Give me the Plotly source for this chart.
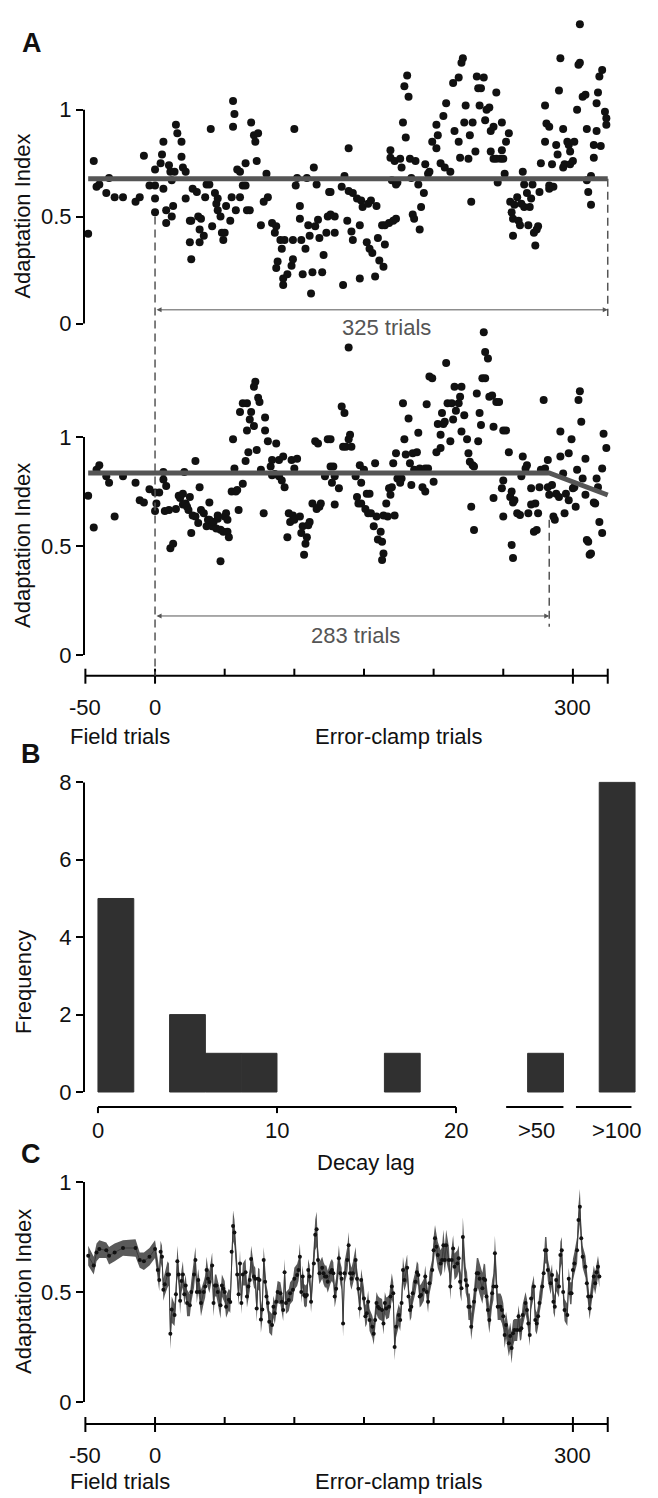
import plotly.graph_objects as go

W, H = 658, 1498
OFF = 8  # page offset of the figure (default body margin)

# ------------------------------------------------------------------ data
field_trials = [-48, -44, -42, -40, -35, -33, -29, -23, -14, -11, -8, -4]

# Panel A (upper subject): adaptation index per trial
a1_field_vals = [0.42, 0.76, 0.64, 0.65, 0.61, 0.68, 0.59, 0.59, 0.57, 0.59, 0.785, 0.645]
a1_clamp = [
    (0,0.52),(0,0.585),(0,0.645),(0,0.72),(4,0.75),(5,0.79),(6,0.85),(6,0.63),(8,0.47),(8,0.53),
    (10,0.74),(11,0.71),(12,0.50),(13,0.55),(12,0.67),(14,0.71),(15,0.93),(16,0.89),(19,0.85),(19,0.78),
    (20,0.73),(22,0.71),(22,0.585),(25,0.48),(25,0.38),(26,0.30),(26,0.48),(27,0.63),(30,0.615),(31,0.50),
    (32,0.44),(32,0.38),(33,0.49),(35,0.41),(36,0.59),(37,0.65),(39,0.65),(40,0.91),(41,0.455),(43,0.61),
    (44,0.56),(45,0.53),(45,0.585),(47,0.50),(48,0.425),(49,0.39),(50,0.425),(51,0.55),(54,0.48),(55,0.59),
    (56,1.04),(57,0.98),(56,0.92),(58,0.53),(59,0.72),(61,0.71),(61,0.59),(63,0.645),(65,0.645),(65,0.75),
    (66,0.53),(68,0.53),(69,0.94),(71,0.88),(72,0.85),(73,0.76),(74,0.89),(76,0.46),(78,0.57),(80,0.70),
    (81,0.59),(84,0.47),(86,0.425),(87,0.455),(87,0.26),(88,0.29),(90,0.39),(91,0.35),(92,0.21),(93,0.39),
    (92,0.18),(95,0.23),(98,0.27),(99,0.30),(100,0.91),(99,0.39),(101,0.645),(102,0.68),(104,0.55),(104,0.49),
    (105,0.39),(106,0.23),(108,0.35),(109,0.68),(110,0.46),(111,0.41),(112,0.14),(113,0.24),(114,0.73),(115,0.455),
    (116,0.65),(117,0.485),(118,0.40),(120,0.24),(121,0.32),(123,0.425),(124,0.50),(125,0.615),
    (126,0.615),(126,0.51),(129,0.50),(129,0.425),(134,0.64),(135,0.18),(136,0.69),(138,0.48),(139,0.82),(139,0.62),
    (141,0.43),(142,0.61),(142,0.39),(145,0.585),(147,0.21),(147,0.46),(148,0.575),(149,0.545),(152,0.38),(153,0.56),
    (154,0.35),(155,0.575),(156,0.33),(158,0.22),(159,0.55),(160,0.40),(161,0.295),(163,0.46),(164,0.265),(165,0.37),
    (165,0.46),(168,0.47),(171,0.48),(173,0.49),(169,0.81),(169,0.775),(170,0.67),(172,0.76),(173,0.65),(174,0.66),
    (176,0.77),(177,0.73),(178,0.94),(179,1.11),(180,0.87),(181,1.16),(182,1.06),(183,0.77),(184,0.68),(185,0.51),
    (187,0.76),(186,0.49),(189,0.65),(190,0.44),(191,0.545),(193,0.61),(194,0.745),(196,0.70),(197,0.71),(199,0.85),
    (202,0.93),(202,0.82),(203,0.88),(205,0.75),(207,0.97),(208,0.73),(209,1.03),(212,0.71),(214,1.125),(215,0.90),
    (218,1.15),(218,0.85),(219,0.775),(220,1.22),(221,1.24),(222,0.94),(223,1.02),(225,0.77),(226,0.88),(227,0.57),
    (228,0.94),(230,0.805),(231,1.155),(232,1.10),(233,1.02),(234,1.10),(236,1.15),(237,0.95),(238,1.00),(240,1.01),
    (241,0.90),(243,0.92),(241,0.805),(243,0.77),(245,1.08),(246,0.66),(245,0.77),(248,0.77),(249,0.81),(250,0.77),
    (249,0.94),(251,0.70),(252,0.85),(254,0.89),(255,0.57),(256,0.52),(257,0.49),(257,0.41),(258,0.555),(260,0.59),
    (261,0.48),(262,0.46),(263,0.56),(264,0.71),(265,0.65),(265,0.545),(267,0.61),(268,0.46),(269,0.545),(270,0.585),
    (271,0.65),(272,0.425),(273,0.365),(274,0.44),(275,0.455),(276,0.615),(277,0.75),(280,0.85),(280,1.02),(281,0.935),
    (283,0.63),(283,0.92),(283,0.645),(285,0.745),(286,0.64),(288,0.835),(289,0.79),(290,1.09),(291,1.24),(293,0.91),
    (293,0.73),(294,0.745),(296,0.85),(297,0.835),(298,0.805),(298,0.745),(300,0.76),(301,0.85),(303,1.00),(304,1.21),
    (305,1.22),(305,1.40),(307,1.06),(309,1.07),(310,0.67),(310,0.91),(311,0.615),(313,0.555),(313,0.69),(315,0.835),
    (315,0.775),(317,1.03),(317,0.90),(318,1.08),(319,1.155),(320,0.83),(321,1.185),(323,0.99),(324,0.96),(324,0.93),
]
a1_fit_level = 0.677
clamp_end = 325

# Panel A (lower subject)
a2_field_vals = [0.73, 0.585, 0.85, 0.87, 0.82, 0.79, 0.635, 0.82, 0.79, 0.71, 0.70, 0.76]
a2_clamp = [
    (0,0.745),(0,0.66),(1,0.695),(3,0.745),(6,0.84),(6,0.805),(7,0.66),(8,0.775),(10,0.665),(11,0.49),
    (13,0.51),(15,0.67),(17,0.73),(18,0.72),(20,0.74),(20,0.69),(21,0.84),(22,0.695),(23,0.68),(24,0.665),
    (25,0.725),(26,0.56),(27,0.64),(29,0.635),(29,0.89),(31,0.605),(32,0.77),(33,0.665),(35,0.65),(37,0.59),
    (38,0.62),(39,0.70),(39,0.62),(41,0.59),(42,0.61),(44,0.58),(45,0.625),(45,0.64),(47,0.43),(47,0.575),
    (49,0.565),(50,0.635),(51,0.65),(52,0.565),(53,0.54),(52,0.62),(55,0.75),(56,0.99),(57,0.855),(58,0.75),
    (59,0.757),(60,0.665),(61,1.115),(63,0.785),(63,1.155),(65,0.89),(66,1.155),(66,1.03),(67,0.93),(68,1.08),
    (69,1.115),(71,1.23),(71,1.05),(72,1.254),(73,0.94),(74,1.18),(75,1.16),(76,0.85),(78,0.65),(79,1.09),
    (79,1.03),(81,0.98),(83,0.865),(84,0.895),(84,0.825),(86,0.83),(87,0.97),(89,0.895),(89,0.82),(91,0.80),
    (92,0.91),(93,0.77),(95,0.54),(96,0.65),(97,0.61),(98,0.895),(99,0.64),(100,0.62),(100,0.855),(102,0.90),
    (104,0.635),(105,0.56),(106,0.59),(107,0.46),(108,0.51),(109,0.54),(110,0.595),(111,0.61),(113,0.695),(115,0.98),
    (116,0.67),(117,0.97),(118,0.68),(119,0.695),(122,0.82),(124,0.99),
    (126,0.99),(126,0.865),(128,0.865),(127,0.79),(129,0.82),(129,0.69),(132,0.765),(134,1.14),(135,0.955),(136,1.11),
    (137,0.955),(139,1.41),(139,0.99),(140,1.01),(141,0.955),(144,0.82),(145,0.725),(146,0.695),(147,0.87),(148,0.79),
    (148,0.695),(150,0.85),(151,0.67),(152,0.74),(153,0.65),(154,0.74),(155,0.65),(157,0.59),(158,0.88),(159,0.635),
    (160,0.53),(162,0.565),(163,0.52),(164,0.466),(163,0.436),(164,0.64),(166,0.695),(167,0.635),(168,0.765),(169,0.735),
    (170,0.77),(171,0.88),(172,0.64),(173,0.925),(174,0.81),(176,0.79),(177,0.81),(178,1.155),(179,0.99),(180,0.92),
    (182,1.085),(183,0.88),(184,0.78),(185,0.925),(186,0.85),(188,0.93),(189,1.02),(190,0.855),(192,0.77),(194,0.75),
    (194,0.855),(195,1.15),(196,0.855),(197,1.277),(199,1.27),(200,0.795),(202,0.93),(203,1.06),(205,1.01),(205,0.95),
    (206,1.11),(207,1.06),(208,1.07),(209,1.34),(210,1.155),(212,0.98),(213,1.155),(214,1.08),(215,1.23),(216,1.12),
    (218,1.155),(219,1.185),(220,1.23),(220,1.025),(222,1.10),(224,0.99),(225,0.925),(226,0.887),(227,0.68),(228,0.87),
    (229,0.573),(229,0.865),(231,1.20),(232,0.98),(233,1.11),(234,1.055),(235,1.27),(237,1.27),(237,1.39),(236,1.48),
    (239,1.36),(240,1.185),(242,1.19),(243,1.047),(243,0.72),(245,1.16),(247,1.16),(249,0.765),(250,0.635),(250,0.80),
    (250,1.03),(252,1.03),(254,0.93),(255,0.725),(256,0.75),(256,0.505),(257,0.445),(257,0.70),(258,0.71),(260,0.65),
    (262,0.642),(263,0.82),(264,0.91),(266,0.855),(267,0.87),(268,0.65),(270,0.765),(270,0.69),(272,0.565),(273,0.695),
    (274,0.573),(275,0.65),(276,0.77),(279,1.17),(277,0.85),(280,0.855),(282,0.895),(282,0.77),(283,0.735),(285,0.78),
    (286,0.635),(287,0.62),(288,0.74),(290,0.725),(291,0.91),(291,1.025),(293,0.833),(294,0.65),(295,0.74),(297,0.71),
    (297,0.925),(299,0.99),(300,0.765),(301,0.77),(302,0.68),(303,0.85),(304,1.17),(305,1.21),(306,1.07),(307,0.81),
    (309,0.90),(309,0.735),(310,0.527),(311,0.52),(312,0.46),(313,0.466),(315,0.70),(316,0.695),(317,0.81),(318,0.77),
    (319,0.61),(321,0.56),(321,0.855),(322,1.015),(324,0.95),
]
a2_fit_level = 0.835
a2_decay_start = 283
a2_fit_end = 0.734

# Panel B: histogram of decay lag
lag_bin_left = [0, 4, 6, 8, 16]
lag_bin_width = 2
lag_counts = [5, 2, 1, 1, 1]
overflow_labels = [">50", ">100"]
overflow_counts = [1, 8]

# Panel C: group mean adaptation index with s.e.m.
c_field_vals = [0.665, 0.62, 0.68, 0.695, 0.69, 0.665, 0.68, 0.70, 0.70, 0.645, 0.64, 0.66]
c_field_err = [0.045, 0.04, 0.04, 0.04, 0.035, 0.04, 0.04, 0.035, 0.04, 0.035, 0.04, 0.04]
c_clamp = [
    (0,0.695,0.04),(2,0.60,0.05),(3,0.555,0.05),(4,0.683,0.05),(5,0.66,0.05),(6,0.51,0.05),(7,0.535,0.05),(9,0.58,0.06),
    (10,0.58,0.05),(11,0.31,0.07),(12,0.42,0.06),(14,0.395,0.05),(15,0.49,0.06),(16,0.64,0.07),(17,0.58,0.05),(18,0.46,0.06),
    (19,0.55,0.05),(20,0.58,0.06),(21,0.49,0.05),(22,0.53,0.05),(23,0.45,0.06),(25,0.44,0.05),(26,0.50,0.05),(28,0.58,0.06),
    (29,0.645,0.06),(30,0.50,0.05),(31,0.555,0.05),(32,0.50,0.05),(33,0.45,0.06),(35,0.50,0.05),(36,0.525,0.05),(37,0.60,0.06),
    (38,0.56,0.05),(39,0.545,0.05),(41,0.62,0.06),(42,0.45,0.06),(43,0.53,0.05),(44,0.53,0.05),(45,0.50,0.05),(47,0.44,0.06),
    (48,0.53,0.05),(49,0.515,0.05),(50,0.50,0.05),(51,0.433,0.05),(53,0.465,0.05),(54,0.455,0.05),(55,0.683,0.06),(56,0.80,0.07),
    (57,0.77,0.06),(59,0.58,0.06),(60,0.49,0.05),(61,0.63,0.06),(62,0.45,0.05),(63,0.58,0.05),(65,0.59,0.06),(66,0.48,0.05),
    (67,0.525,0.05),(68,0.555,0.05),(69,0.65,0.06),(71,0.57,0.05),(72,0.56,0.05),(73,0.425,0.06),(74,0.56,0.05),(75,0.555,0.05),
    (76,0.375,0.06),(77,0.42,0.05),(78,0.645,0.06),(79,0.547,0.05),(80,0.48,0.05),(81,0.45,0.05),(82,0.365,0.05),(84,0.35,0.05),
    (85,0.433,0.05),(86,0.403,0.05),(87,0.456,0.05),(88,0.50,0.05),(90,0.494,0.05),(91,0.456,0.05),(92,0.418,0.05),(93,0.59,0.06),
    (94,0.45,0.05),(96,0.464,0.05),(97,0.494,0.05),(99,0.51,0.05),(100,0.56,0.05),(102,0.577,0.05),(103,0.60,0.05),(104,0.66,0.06),
    (105,0.50,0.05),(106,0.57,0.05),(107,0.486,0.05),(108,0.48,0.05),(109,0.486,0.05),(110,0.60,0.05),(111,0.57,0.05),(112,0.456,0.05),
    (114,0.63,0.06),(115,0.76,0.07),(116,0.785,0.08),(117,0.645,0.06),(118,0.585,0.05),(120,0.61,0.05),(121,0.585,0.05),(122,0.57,0.05),
    (123,0.57,0.05),(124,0.547,0.05),(126,0.59,0.05),(127,0.60,0.05),(128,0.585,0.05),(129,0.48,0.05),(130,0.515,0.05),(132,0.653,0.06),
    (133,0.585,0.05),(134,0.56,0.05),(135,0.357,0.06),(136,0.585,0.05),(138,0.645,0.06),(139,0.713,0.06),(140,0.585,0.05),(141,0.56,0.05),
    (142,0.585,0.05),(144,0.645,0.06),(145,0.56,0.05),(146,0.515,0.05),(147,0.425,0.05),(148,0.555,0.05),(150,0.47,0.05),(151,0.39,0.05),
    (152,0.403,0.05),(153,0.456,0.05),(154,0.373,0.05),(156,0.342,0.05),(157,0.31,0.05),(158,0.373,0.05),(159,0.45,0.05),(160,0.433,0.05),
    (161,0.425,0.05),(163,0.418,0.05),(164,0.357,0.05),(165,0.45,0.05),(166,0.425,0.05),(168,0.433,0.05),(169,0.48,0.05),(170,0.525,0.06),
    (171,0.494,0.05),(172,0.25,0.06),(173,0.342,0.05),(175,0.395,0.05),(176,0.373,0.05),(177,0.45,0.05),(178,0.60,0.06),(179,0.555,0.05),
    (181,0.61,0.06),(182,0.48,0.05),(183,0.418,0.05),(184,0.433,0.05),(185,0.494,0.05),(187,0.547,0.05),(188,0.59,0.05),(189,0.577,0.05),
    (190,0.48,0.05),(191,0.486,0.05),(193,0.51,0.05),(194,0.57,0.05),(195,0.50,0.05),(196,0.456,0.05),(197,0.54,0.05),(199,0.60,0.05),
    (200,0.69,0.06),(201,0.744,0.06),(202,0.706,0.06),(203,0.668,0.06),(205,0.63,0.06),(206,0.645,0.06),(207,0.713,0.07),(208,0.645,0.06),
    (209,0.713,0.07),(211,0.645,0.06),(212,0.525,0.06),(213,0.645,0.06),(214,0.698,0.06),(215,0.615,0.06),(217,0.63,0.06),(218,0.653,0.06),
    (219,0.547,0.06),(220,0.517,0.06),(221,0.75,0.09),(223,0.555,0.06),(224,0.53,0.06),(225,0.433,0.06),(226,0.433,0.06),(227,0.342,0.06),
    (229,0.456,0.06),(230,0.51,0.07),(231,0.585,0.07),(232,0.585,0.07),(233,0.56,0.07),(235,0.517,0.07),(236,0.56,0.07),(237,0.555,0.07),
    (238,0.48,0.06),(239,0.418,0.06),(240,0.373,0.06),(242,0.494,0.06),(243,0.525,0.06),(244,0.676,0.08),(245,0.525,0.06),(246,0.433,0.06),
    (248,0.433,0.06),(249,0.418,0.06),(250,0.39,0.06),(251,0.305,0.06),(252,0.35,0.06),(254,0.267,0.06),(255,0.30,0.06),(256,0.245,0.07),
    (257,0.312,0.06),(258,0.327,0.05),(260,0.327,0.05),(261,0.39,0.05),(262,0.327,0.05),(263,0.335,0.05),(264,0.395,0.05),(266,0.45,0.05),
    (267,0.418,0.05),(268,0.357,0.05),(269,0.305,0.05),(270,0.47,0.05),(272,0.525,0.05),(273,0.373,0.05),(274,0.357,0.05),(275,0.39,0.05),
    (276,0.45,0.05),(278,0.525,0.05),(279,0.585,0.05),(280,0.69,0.06),(281,0.69,0.06),(282,0.60,0.05),(284,0.54,0.05),(285,0.577,0.05),
    (286,0.456,0.05),(287,0.433,0.05),(288,0.555,0.05),(290,0.525,0.05),(291,0.668,0.06),(292,0.69,0.06),(293,0.50,0.05),(294,0.418,0.05),
    (296,0.395,0.05),(297,0.56,0.05),(298,0.494,0.05),(299,0.494,0.05),(300,0.60,0.05),(301,0.63,0.05),(303,0.69,0.06),(304,0.827,0.07),
    (305,0.888,0.08),(306,0.744,0.06),(307,0.66,0.05),(309,0.615,0.05),(310,0.54,0.05),(311,0.48,0.05),(312,0.425,0.05),(313,0.48,0.05),
    (315,0.57,0.05),(316,0.54,0.05),(317,0.59,0.05),(318,0.615,0.05),(319,0.57,0.05),
]

trial_ticks = [-50, 0, 50, 100, 150, 200, 250, 300]
trial_labels = {-50: "-50", 0: "0", 300: "300"}
ai_ticks = [0, 0.5, 1]
freq_ticks = [0, 2, 4, 6, 8]
lag_ticks = [0, 10, 20]

# ------------------------------------------------------------------ geometry (page pixels)
X_AC = dict(r=(-51, 330), p=(84.0, 614.7))
Y_A1 = dict(r=(-0.10, 1.45), p=(344.9, 5.45 + OFF))
Y_A2 = dict(r=(-0.095, 1.50), p=(675.7, 328.0))
X_B = dict(r=(-0.78, 30.5), p=(84.0, 644.0))
Y_B = dict(r=(-0.39, 8.40), p=(1107.1, 766.9))
Y_C = dict(r=(-0.10, 1.10), p=(1424.0, 1160.0))
OVERFLOW_POS = [25, 29]
OVERFLOW_LABEL_POS = [24.5, 29]
OVERFLOW_SEG = [(22.8, 26.0), (26.7, 29.8)]


def pix(ax, v):
    r0, r1 = ax["r"]
    p0, p1 = ax["p"]
    return p0 + (v - r0) / (r1 - r0) * (p1 - p0)


def px2x(p):
    return (p - OFF) / W


def py2y(p):
    return 1 - (p - OFF) / H


def xp(ax, v):
    return px2x(pix(ax, v))


def yp(ax, v):
    return py2y(pix(ax, v))


def xdom(ax):
    return [px2x(ax["p"][0]), px2x(ax["p"][1])]


def ydom(ax):
    return [py2y(ax["p"][0]), py2y(ax["p"][1])]


FONT = "Arial, Liberation Sans, sans-serif"
BLACK = "#111111"
GRAY = "#555555"

fig = go.Figure()

# ------------------------------------------------------------------ panel A traces
for (fv, cl, xa, ya) in [(a1_field_vals, a1_clamp, "x", "y"), (a2_field_vals, a2_clamp, "x2", "y2")]:
    xs = field_trials + [p[0] for p in cl]
    ys = fv + [p[1] for p in cl]
    fig.add_trace(go.Scatter(x=xs, y=ys, mode="markers", xaxis=xa, yaxis=ya,
                             marker=dict(size=8, color=BLACK, line=dict(width=0)),
                             cliponaxis=False, hoverinfo="skip"))

fig.add_trace(go.Scatter(x=[field_trials[0], clamp_end], y=[a1_fit_level, a1_fit_level],
                         mode="lines", line=dict(color=GRAY, width=5), xaxis="x", yaxis="y"))
fig.add_trace(go.Scatter(x=[field_trials[0], a2_decay_start, clamp_end],
                         y=[a2_fit_level, a2_fit_level, a2_fit_end],
                         mode="lines", line=dict(color=GRAY, width=5), xaxis="x2", yaxis="y2"))

# ------------------------------------------------------------------ panel B
bx = [l + lag_bin_width / 2 for l in lag_bin_left] + OVERFLOW_POS
by = lag_counts + overflow_counts
fig.add_trace(go.Bar(x=bx, y=by, width=[lag_bin_width] * len(bx), xaxis="x3", yaxis="y3",
                     marker=dict(color="#303030", line=dict(width=1, color="#303030"))))

# ------------------------------------------------------------------ panel C
ct = field_trials + [p[0] for p in c_clamp]
cv = c_field_vals + [p[1] for p in c_clamp]
ce = c_field_err + [p[2] for p in c_clamp]
fig.add_trace(go.Scatter(x=ct, y=[v - e for v, e in zip(cv, ce)], mode="lines",
                         line=dict(width=0, color="#5a5a5a"), xaxis="x4", yaxis="y4"))
fig.add_trace(go.Scatter(x=ct, y=[v + e for v, e in zip(cv, ce)], mode="lines", fill="tonexty",
                         fillcolor="#5a5a5a", line=dict(width=0, color="#5a5a5a"), xaxis="x4", yaxis="y4"))
fig.add_trace(go.Scatter(x=ct, y=cv, mode="lines+markers", xaxis="x4", yaxis="y4",
                         line=dict(color="#3c3c3c", width=1),
                         marker=dict(size=4, color=BLACK)))

# ------------------------------------------------------------------ axis art (shapes)
shapes = []


def seg(x0, y0, x1, y1, color="black", width=2, dash=None):
    d = dict(type="line", xref="paper", yref="paper", x0=x0, y0=y0, x1=x1, y1=y1,
             line=dict(color=color, width=width))
    if dash:
        d["line"]["dash"] = dash
    shapes.append(d)


def trial_axis(yax):
    ybase = yp(yax, yax["r"][0])
    seg(xp(X_AC, trial_ticks[0]), ybase, xp(X_AC, clamp_end), ybase)
    for t in trial_ticks + [clamp_end]:
        up = 7 / H
        down = 8 / H if (t in trial_labels or t == clamp_end) else 0
        seg(xp(X_AC, t), ybase + up, xp(X_AC, t), ybase - down)


def y_spine(xax, yax, lo, hi):
    x = xp(xax, xax["r"][0])
    seg(x, yp(yax, lo), x, yp(yax, hi))


y_spine(X_AC, Y_A1, ai_ticks[0], ai_ticks[-1])
y_spine(X_AC, Y_A2, ai_ticks[0], ai_ticks[-1])
y_spine(X_B, Y_B, freq_ticks[0], freq_ticks[-1])
y_spine(X_AC, Y_C, ai_ticks[0], ai_ticks[-1])
trial_axis(Y_A2)
trial_axis(Y_C)

# panel B x axis
yb = yp(Y_B, Y_B["r"][0])
seg(xp(X_B, lag_ticks[0]), yb, xp(X_B, lag_ticks[-1]), yb)
for t in lag_ticks:
    seg(xp(X_B, t), yb, xp(X_B, t), yb - 6 / H)
for a, b in OVERFLOW_SEG:
    seg(xp(X_B, a), yb, xp(X_B, b), yb)

# dashed markers
seg(xp(X_AC, 0), yp(Y_A1, 0.50), xp(X_AC, 0), yp(Y_A2, Y_A2["r"][0]), color=GRAY, width=1.5, dash="8px,5px")
seg(xp(X_AC, clamp_end), yp(Y_A1, a1_fit_level), xp(X_AC, clamp_end), yp(Y_A1, 0.035),
    color=GRAY, width=1.5, dash="8px,5px")
seg(xp(X_AC, a2_decay_start), yp(Y_A2, 0.62), xp(X_AC, a2_decay_start), yp(Y_A2, 0.13),
    color=GRAY, width=1.5, dash="8px,5px")

# ------------------------------------------------------------------ annotations
ann = []


def text(x, y, s, size=22, color=BLACK, angle=0, bold=False, xanchor="center"):
    ann.append(dict(x=x, y=y, xref="paper", yref="paper", text=("<b>%s</b>" % s) if bold else s,
                    showarrow=False, textangle=angle, xanchor=xanchor, yanchor="middle",
                    borderpad=0, font=dict(family=FONT, size=size, color=color)))


text(px2x(32), py2y(43), "A", size=27, bold=True)
text(px2x(31), py2y(754), "B", size=27, bold=True)
text(px2x(31), py2y(1154), "C", size=27, bold=True)

for yax in (Y_A1, Y_A2, Y_C):
    text(px2x(23), yp(yax, 0.5), "Adaptation Index", angle=-90)
text(px2x(23), py2y(982), "Frequency", angle=-90)

# x tick labels
for lab_y, title_y in ((707, 736), (1455, 1481)):
    for t, s in trial_labels.items():
        text(xp(X_AC, t), py2y(lab_y), s)
    text(xp(X_AC, -25), py2y(title_y), "Field trials")
    text(xp(X_AC, 174.5), py2y(title_y), "Error-clamp trials")
for t in lag_ticks:
    text(xp(X_B, t), py2y(1130), str(t))
for pos, s in zip(OVERFLOW_LABEL_POS, overflow_labels):
    text(xp(X_B, pos), py2y(1130), s)
text(px2x(366), py2y(1162), "Decay lag")

text(xp(X_AC, 166.5), yp(Y_A1, -0.018), "%d trials" % clamp_end, color=GRAY)
text(xp(X_AC, 143.6), yp(Y_A2, 0.09), "%d trials" % a2_decay_start, color=GRAY)

# double-headed arrows
for xa, ya, end, lvl in [("x", "y", clamp_end, 0.064), ("x2", "y2", a2_decay_start, 0.179)]:
    ann.append(dict(x=end, y=lvl, ax=0, ay=lvl, xref=xa, yref=ya, axref=xa, ayref=ya,
                    text="", showarrow=True, arrowside="end+start", arrowhead=2, startarrowhead=2,
                    arrowsize=1, startarrowsize=1, arrowwidth=1, arrowcolor=GRAY,
                    standoff=0, startstandoff=0))

# ------------------------------------------------------------------ layout
tickfont = dict(family=FONT, size=22, color=BLACK)
common_y = dict(showgrid=False, zeroline=False, showline=False, ticks="outside", ticklen=7,
                tickwidth=2, tickcolor="black", tickfont=tickfont, automargin=False)
common_x = dict(showgrid=False, zeroline=False, showline=False, showticklabels=False,
                ticks="", automargin=False)

fig.update_layout(
    width=W, height=H, margin=dict(l=0, r=0, t=0, b=0, pad=0, autoexpand=False),
    paper_bgcolor="white", plot_bgcolor="white", showlegend=False,
    font=dict(family=FONT, size=22, color=BLACK),
    xaxis=dict(domain=xdom(X_AC), range=list(X_AC["r"]), anchor="y", **common_x),
    yaxis=dict(domain=ydom(Y_A1), range=list(Y_A1["r"]), anchor="x",
               tickvals=ai_ticks, ticktext=["0", "0.5", "1"], **common_y),
    xaxis2=dict(domain=xdom(X_AC), range=list(X_AC["r"]), anchor="y2", **common_x),
    yaxis2=dict(domain=ydom(Y_A2), range=list(Y_A2["r"]), anchor="x2",
                tickvals=ai_ticks, ticktext=["0", "0.5", "1"], **common_y),
    xaxis3=dict(domain=xdom(X_B), range=list(X_B["r"]), anchor="y3", **common_x),
    yaxis3=dict(domain=ydom(Y_B), range=list(Y_B["r"]), anchor="x3",
                tickvals=freq_ticks, **common_y),
    xaxis4=dict(domain=xdom(X_AC), range=list(X_AC["r"]), anchor="y4", **common_x),
    yaxis4=dict(domain=ydom(Y_C), range=list(Y_C["r"]), anchor="x4",
                tickvals=ai_ticks, ticktext=["0", "0.5", "1"], **common_y),
    shapes=shapes, annotations=ann,
)

fig.write_html("out.html")
